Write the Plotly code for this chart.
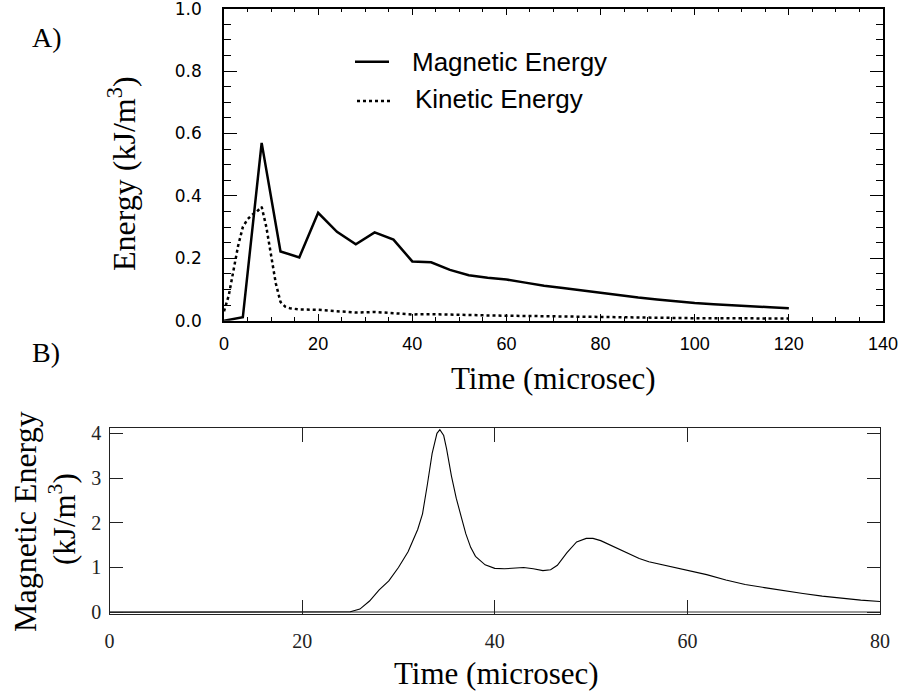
import plotly.graph_objects as go

# ---------------- Panel A data ----------------
time_mag = [0, 4, 8, 12, 16, 20, 24, 28, 32, 36, 40, 44, 48, 52, 56, 60, 64, 68, 72, 76,
            80, 84, 88, 92, 96, 100, 104, 108, 112, 116, 120]
mag_energy = [0.0, 0.011, 0.57, 0.222, 0.203, 0.346, 0.285, 0.245, 0.283, 0.26, 0.19, 0.187,
              0.163, 0.146, 0.138, 0.132, 0.122, 0.112, 0.105, 0.097, 0.088, 0.080, 0.074,
              0.068, 0.062, 0.057, 0.053, 0.049, 0.046, 0.043, 0.040]

time_kin = [0, 1, 2, 3, 4, 5, 6, 7, 8, 9, 10, 11, 12, 13, 14, 16, 20, 24, 28, 32, 36, 40, 44,
            48, 52, 56, 60, 64, 68, 72, 76, 80, 84, 88, 92, 96, 100, 104, 108, 112, 116, 120]
kin_energy = [0.03, 0.08, 0.16, 0.24, 0.30, 0.325, 0.34, 0.35, 0.365, 0.30, 0.21, 0.12, 0.06,
              0.045, 0.04, 0.036, 0.035, 0.03, 0.026, 0.028, 0.024, 0.02, 0.021, 0.019, 0.018,
              0.017, 0.016, 0.015, 0.014, 0.013, 0.012, 0.011, 0.010, 0.010, 0.009, 0.009,
              0.008, 0.008, 0.008, 0.007, 0.007, 0.007]

# ---------------- Panel B data ----------------
time_b = [0, 5, 10, 15, 20, 24, 25, 26, 27, 28, 29, 30, 31, 32, 32.5, 33, 33.5, 34, 34.3, 34.7,
          35, 35.5, 36, 36.5, 37, 37.5, 38, 39, 40, 41, 42, 43, 44, 45, 45.8, 46.5, 47.5, 48.5,
          49.5, 50.2, 51, 52, 53, 54, 55, 56, 57, 58, 60, 62, 64, 66, 68, 70, 72, 74, 76, 78, 80]
mag_b = [0, 0, 0, 0, 0, 0, 0.01, 0.07, 0.25, 0.5, 0.7, 1.0, 1.35, 1.85, 2.2, 2.85, 3.55, 4.0,
         4.08, 3.95, 3.65, 3.05, 2.55, 2.15, 1.75, 1.45, 1.25, 1.06, 0.98, 0.97, 0.99, 1.0,
         0.97, 0.93, 0.95, 1.05, 1.33, 1.57, 1.65, 1.65, 1.6, 1.5, 1.4, 1.29, 1.2, 1.13, 1.08,
         1.03, 0.93, 0.84, 0.72, 0.62, 0.55, 0.48, 0.42, 0.36, 0.31, 0.27, 0.24]

xa_ticks = [0, 20, 40, 60, 80, 100, 120, 140]
ya_ticks = [0.0, 0.2, 0.4, 0.6, 0.8, 1.0]
ya_ticklabels = ["0.0", "0.2", "0.4", "0.6", "0.8", "1.0"]
xb_ticks = [0, 20, 40, 60, 80]
yb_ticks = [0, 1, 2, 3, 4]

W, H = 906, 695
def px(x):
    return x / W
def py(y):
    return 1 - y / H

SERIF = "Liberation Serif"
SANS = "Liberation Sans"

fig = go.Figure()
fig.add_trace(go.Scatter(x=time_mag, y=mag_energy, mode="lines", name="Magnetic Energy",
                         line=dict(color="black", width=2.5), xaxis="x", yaxis="y"))
fig.add_trace(go.Scatter(x=time_kin, y=kin_energy, mode="lines", name="Kinetic Energy",
                         line=dict(color="black", width=2.5, dash="dot"), xaxis="x", yaxis="y"))
fig.add_trace(go.Scatter(x=time_b, y=mag_b, mode="lines", name="Magnetic Energy B",
                         line=dict(color="black", width=1.1), xaxis="x2", yaxis="y2"))

common = dict(showgrid=False, automargin=False, ticklabeloverflow="allow", showline=True)

fig.update_layout(
    width=W, height=H,
    margin=dict(l=0, r=0, t=0, b=0),
    paper_bgcolor="white", plot_bgcolor="white",
    showlegend=False,
    xaxis=dict(domain=[px(224), px(883)], range=[0, 140], tickmode="array", tickvals=xa_ticks,
               ticks="inside", ticklen=7, tickwidth=1.3, tickcolor="black",
               minor=dict(dtick=5, ticklen=4, ticks="inside", tickwidth=1.2, tickcolor="black"),
               linecolor="black", linewidth=1.5, mirror="ticks",
               zeroline=False, anchor="y",
               tickfont=dict(family=SANS, size=18, color="black"), ticklabelstandoff=6, **common),
    yaxis=dict(domain=[py(320.7), py(8.7)], range=[0, 1], tickmode="array", tickvals=ya_ticks,
               ticktext=ya_ticklabels,
               ticks="inside", ticklen=13, tickwidth=1.3, tickcolor="black",
               minor=dict(dtick=0.05, ticklen=7, ticks="inside", tickwidth=1.2, tickcolor="black"),
               linecolor="black", linewidth=1.5, mirror="ticks",
               zeroline=False, anchor="x",
               tickfont=dict(family="DejaVu Sans", size=17, color="black"), ticklabelstandoff=17,
               **common),
    xaxis2=dict(domain=[px(109.5), px(880)], range=[0, 80], tickmode="array", tickvals=xb_ticks,
                ticks="inside", ticklen=14, tickwidth=1.3, tickcolor="#222",
                linecolor="#222", linewidth=1.3, mirror="ticks",
                zeroline=False, anchor="y2",
                tickfont=dict(family=SERIF, size=20, color="#222"), ticklabelstandoff=9, **common),
    yaxis2=dict(domain=[py(614), py(427.7)], range=[-0.04, 4.125], tickmode="array",
                tickvals=yb_ticks,
                ticks="inside", ticklen=13, tickwidth=1.3, tickcolor="#222",
                linecolor="#222", linewidth=1.3, mirror="ticks",
                zeroline=True, zerolinecolor="#999", zerolinewidth=2,
                anchor="x2",
                tickfont=dict(family=SERIF, size=20, color="#222"), ticklabelstandoff=3, **common),
)

ann = [
    dict(text="A)", x=px(47), y=py(37), font=dict(family=SERIF, size=28)),
    dict(text="B)", x=px(46), y=py(352), font=dict(family=SERIF, size=28)),
    dict(text="Energy (kJ/m<sup>3</sup>)", x=px(122), y=py(174), textangle=-90,
         font=dict(family=SERIF, size=32)),
    dict(text="Time (microsec)", x=px(553), y=py(378), font=dict(family=SERIF, size=31)),
    dict(text="Time (microsec)", x=px(496), y=py(673), font=dict(family=SERIF, size=31)),
    dict(text="Magnetic Energy", x=px(25), y=py(522), textangle=-90,
         font=dict(family=SERIF, size=32)),
    dict(text="(kJ/m<sup>3</sup>)", x=px(62), y=py(519), textangle=-90,
         font=dict(family=SERIF, size=31)),
    dict(text="Magnetic Energy", x=px(410), y=py(62), xanchor="left",
         font=dict(family=SANS, size=26)),
    dict(text="Kinetic Energy", x=px(413), y=py(99), xanchor="left",
         font=dict(family=SANS, size=26)),
]
for a in ann:
    a.setdefault("xanchor", "center")
    a.setdefault("yanchor", "middle")
    a["xref"] = "paper"
    a["yref"] = "paper"
    a["showarrow"] = False
    a["font"]["color"] = "black"
fig.update_layout(annotations=ann)

fig.add_shape(type="line", xref="paper", yref="paper", x0=px(355), x1=px(389),
              y0=py(61.7), y1=py(61.7), line=dict(color="black", width=2.5))
fig.add_shape(type="line", xref="paper", yref="paper", x0=px(357), x1=px(390),
              y0=py(101), y1=py(101), line=dict(color="black", width=2.5, dash="dot"))

fig.write_html("out.html",
               post_script="document.body.style.margin='0';document.body.style.overflow='hidden';")
